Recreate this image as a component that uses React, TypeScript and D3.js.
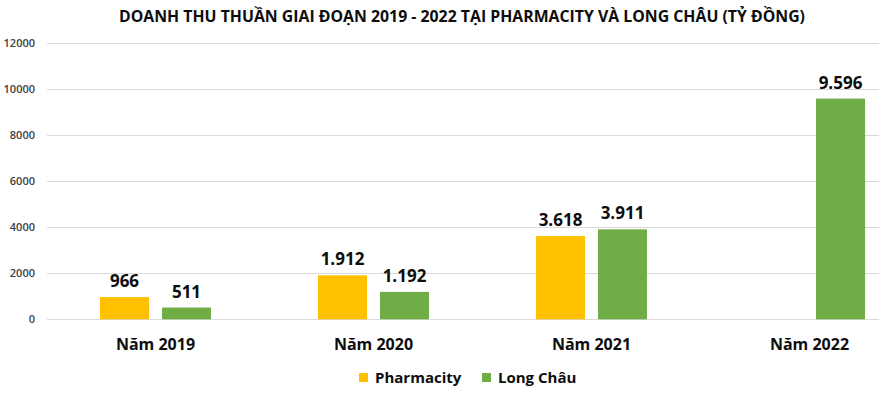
import React, { useRef, useEffect } from 'react';
import * as d3 from 'd3';

const categories = ['Năm 2019', 'Năm 2020', 'Năm 2021', 'Năm 2022'];
const pharmacity = [966, 1912, 3618, null];
const longChau = [511, 1192, 3911, 9596];
const yTicks = [0, 2000, 4000, 6000, 8000, 10000, 12000];
const seriesNames = ['Pharmacity', 'Long Châu'];
const colors = ['#FFC000', '#70AD47'];

const W = 881;
const H = 399;

const fmt = (v: number) => d3.format(',')(v).replace(/,/g, '.');

const App = () => {
  const svgRef = useRef<SVGSVGElement>(null);

  useEffect(() => {
    const svg = d3.select(svgRef.current);
    svg.selectAll('*').remove();

    const font = "'Open Sans', sans-serif";

    const x = d3.scaleBand().domain(categories).range([46.5, 918.5]);
    const xs = d3.scaleBand().domain(seriesNames).range([0, x.bandwidth()]).paddingInner(0.21).paddingOuter(0.863);
    const y = d3.scaleLinear().domain([0, 12000]).range([319.3, 43.3]);

    // title
    svg.append('text')
      .attr('x', 462).attr('y', 22)
      .attr('text-anchor', 'middle')
      .attr('textLength', 686).attr('lengthAdjust', 'spacingAndGlyphs')
      .style('font-family', font).style('font-weight', 'bold').style('font-size', '15.5px')
      .style('fill', '#0d0d0d')
      .text('DOANH THU THUẦN GIAI ĐOẠN 2019 - 2022 TẠI PHARMACITY VÀ LONG CHÂU (TỶ ĐỒNG)');

    // gridlines
    svg.append('g').selectAll('line').data(yTicks).enter().append('line')
      .attr('x1', 47).attr('x2', 879)
      .attr('y1', d => Math.round(y(d)) + 0.5).attr('y2', d => Math.round(y(d)) + 0.5)
      .attr('stroke', '#d9d9d9').attr('stroke-width', 1);

    // y labels
    svg.append('g').selectAll('text').data(yTicks).enter().append('text')
      .attr('x', 35).attr('y', d => y(d) + 4)
      .attr('text-anchor', 'end')
      .style('font-family', font).style('font-size', '11px').style('font-weight', 600)
      .style('fill', '#404040')
      .text(d => d);

    const series = [pharmacity, longChau];
    series.forEach((vals, si) => {
      const g = svg.append('g');
      const data = categories.map((c, i) => ({ c, v: vals[i] })).filter(d => d.v != null) as { c: string; v: number }[];
      g.selectAll('rect').data(data).enter().append('rect')
        .attr('x', d => (x(d.c) as number) + (xs(seriesNames[si]) as number))
        .attr('width', xs.bandwidth())
        .attr('y', d => y(d.v))
        .attr('height', d => y(0) - y(d.v))
        .attr('fill', colors[si]);
      g.selectAll('text').data(data).enter().append('text')
        .attr('x', d => (x(d.c) as number) + (xs(seriesNames[si]) as number) + xs.bandwidth() / 2)
        .attr('y', d => y(d.v) - 10)
        .attr('text-anchor', 'middle')
        .style('font-family', font).style('font-weight', 'bold').style('font-size', '17px')
        .style('fill', '#0d0d0d')
        .text(d => fmt(d.v));
    });

    // x labels
    svg.append('g').selectAll('text').data(categories).enter().append('text')
      .attr('x', d => (x(d) as number) + x.bandwidth() / 2)
      .attr('y', 350)
      .attr('text-anchor', 'middle')
      .style('font-family', font).style('font-weight', 'bold').style('font-size', '16px')
      .style('fill', '#0d0d0d')
      .text(d => d);

    // legend
    const legendX = [359, 482];
    const lg = svg.append('g').selectAll('g').data(seriesNames).enter().append('g')
      .attr('transform', (d, i) => `translate(${legendX[i]},373)`);
    lg.append('rect').attr('width', 9).attr('height', 9).attr('fill', (d, i) => colors[i]);
    lg.append('text')
      .attr('x', 16).attr('y', 10)
      .style('font-family', font).style('font-weight', 'bold').style('font-size', '15px')
      .style('fill', '#0d0d0d')
      .text(d => d);
  }, []);

  return <svg ref={svgRef} width={W} height={H} style={{ position: 'absolute', left: 0, top: 0, background: '#fff' }} />;
};

export default App;
